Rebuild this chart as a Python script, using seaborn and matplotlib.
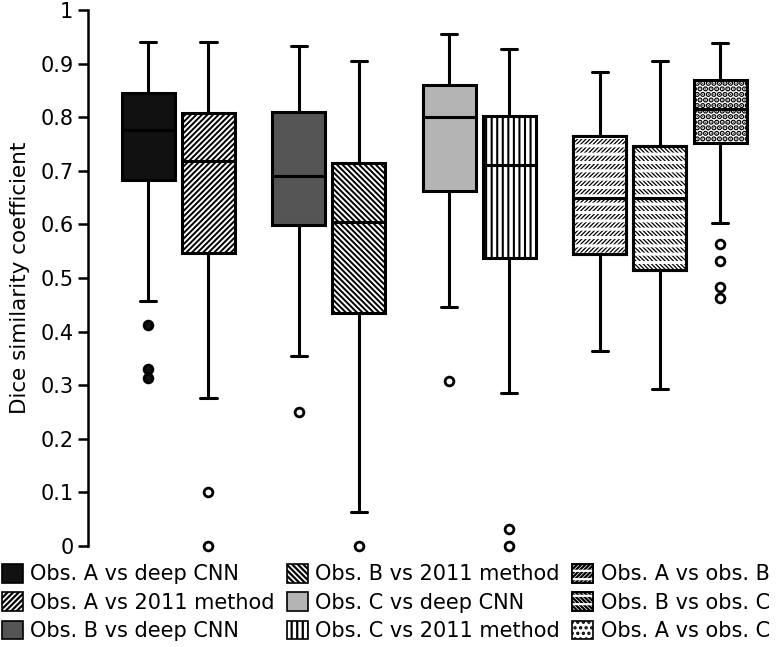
import numpy as np
import pandas as pd
import matplotlib
matplotlib.use("Agg")
import matplotlib.pyplot as plt
import seaborn as sns
from matplotlib.patches import Patch, PathPatch
from matplotlib.legend_handler import HandlerTuple

# ---------------- data ----------------
labels = ["Obs. A vs deep CNN", "Obs. A vs 2011 method", "Obs. B vs deep CNN",
          "Obs. B vs 2011 method", "Obs. C vs deep CNN", "Obs. C vs 2011 method",
          "Obs. A vs obs. B", "Obs. B vs obs. C", "Obs. A vs obs. C"]
whisker_low = [0.458, 0.277, 0.355, 0.063, 0.446, 0.286, 0.364, 0.292, 0.603]
quartile_1 = [0.683, 0.546, 0.599, 0.434, 0.663, 0.538, 0.545, 0.515, 0.752]
median = [0.777, 0.719, 0.691, 0.605, 0.800, 0.711, 0.649, 0.650, 0.816]
quartile_3 = [0.845, 0.808, 0.810, 0.714, 0.861, 0.803, 0.765, 0.747, 0.870]
whisker_high = [0.940, 0.940, 0.932, 0.904, 0.955, 0.928, 0.885, 0.904, 0.938]
outliers = [[0.413, 0.330, 0.314], [0.101, 0.0], [0.250], [0.0], [0.307],
            [0.032, 0.0], [], [], [0.563, 0.532, 0.483, 0.462]]
y_ticks = [0, 0.1, 0.2, 0.3, 0.4, 0.5, 0.6, 0.7, 0.8, 0.9, 1]
y_tick_labels = ["0", "0.1", "0.2", "0.3", "0.4", "0.5", "0.6", "0.7", "0.8", "0.9", "1"]
y_label = "Dice similarity coefficient"

# ---------------- layout / style ----------------
slots = [0, 1, 2.5, 3.5, 5, 6, 7.5, 8.5, 9.5]
fills = ["#111111", "white", "#555555", "white", "#b4b4b4", "white", "white", "white", "white"]
hatches = [None, "//////", None, "\\\\\\\\\\\\", None, "|||", "band/", "band\\", "..."]
hatch_lw = [None, 1.4, None, 1.4, None, 1.5, None, None, 2.8]

# long-form sample reproducing each box's five-number summary and outliers
rows = []
for i, lab in enumerate(labels):
    vals = (outliers[i] + [whisker_low[i]] + [quartile_1[i]] * 20 + [median[i]] * 20
            + [quartile_3[i]] * 20 + [whisker_high[i]])
    for v in vals:
        rows.append({"slot": slots[i], "label": lab, "value": v})
df = pd.DataFrame(rows)

sns.set_theme(style="white")
plt.rcParams["font.family"] = ["DejaVu Sans"]
plt.rcParams["hatch.linewidth"] = 1.6
for k in ["text.color", "axes.labelcolor", "xtick.color", "ytick.color"]:
    plt.rcParams[k] = "black"

W, H = 780, 647
fig = plt.figure(figsize=(W / 100, H / 100), dpi=100)
ax = fig.add_axes([88 / W, 101 / H, (770 - 88) / W, 536 / H])

sns.boxplot(data=df, x="slot", y="value", hue="label", hue_order=labels,
            palette=dict(zip(labels, fills)), saturation=1, native_scale=True,
            dodge=False, width=0.88, linecolor="black", linewidth=2.2, whis=1.5,
            flierprops=dict(marker="o", markerfacecolor="white", markeredgecolor="black",
                            markeredgewidth=2.0, markersize=6.3),
            capwidths=0.27, legend=False, ax=ax)


def set_hlw(p, lw):
    if lw is not None and hasattr(p, "set_hatch_linewidth"):
        p.set_hatch_linewidth(lw)


BAND_FWD = "////////"
BAND_BWD = "\\\\\\\\\\\\\\\\"
BAND_LW = 0.9
STRIPE_LW = 2.2

boxes = sorted([p for p in ax.patches if isinstance(p, PathPatch)],
               key=lambda p: p.get_path().vertices[:, 0].mean())
for p, h, fc, hl in zip(boxes, hatches, fills, hatch_lw):
    p.set_facecolor(fc)
    p.set_edgecolor("black")
    if h is None:
        continue
    if h.startswith("band"):
        p.set_hatch(BAND_FWD if h.endswith("/") else BAND_BWD)
        set_hlw(p, BAND_LW)
        ov = PathPatch(p.get_path(), transform=p.get_transform(), facecolor="none",
                       edgecolor="white", lw=0, hatch="--", zorder=p.get_zorder() + 0.01)
        set_hlw(ov, STRIPE_LW)
        ax.add_patch(ov)
        ol = PathPatch(p.get_path(), transform=p.get_transform(), facecolor="none",
                       edgecolor="black", lw=2.2, zorder=p.get_zorder() + 0.02)
        ax.add_patch(ol)
    else:
        p.set_hatch(h)
        set_hlw(p, hl)

for ln in ax.lines:
    if ln.get_marker() == "o":
        ln.set_clip_on(False)
        xd = np.asarray(ln.get_xdata())
        if len(xd) and abs(xd[0] - slots[0]) < 0.01:
            ln.set_markerfacecolor("#111111")

ax.set_xlim(-1.0, 10.33)
ax.set_ylim(0, 1)
ax.set_yticks(y_ticks)
ax.set_yticklabels(y_tick_labels, fontsize=15)
ax.set_ylabel(y_label, fontsize=15.5, color="black")
ax.yaxis.set_label_coords(-0.085, 0.5)
ax.set_xlabel("")
ax.set_xticks([])
sns.despine(ax=ax, top=True, right=True, bottom=True)
ax.spines["left"].set_linewidth(1.8)
ax.spines["left"].set_color("black")
ax.tick_params(axis="y", direction="out", length=7, width=1.8, color="black", pad=3.5,
               left=True, labelcolor="black")

# legend
handles = []
for h, fc, hl in zip(hatches, fills, hatch_lw):
    if h is not None and h.startswith("band"):
        base = Patch(facecolor="white", edgecolor="black", lw=1.2,
                     hatch=BAND_FWD if h.endswith("/") else BAND_BWD)
        set_hlw(base, BAND_LW)
        ov = Patch(facecolor="none", edgecolor="white", lw=0, hatch="--")
        set_hlw(ov, STRIPE_LW)
        ol = Patch(facecolor="none", edgecolor="black", lw=1.2)
        handles.append((base, ov, ol))
    else:
        hp = Patch(facecolor=fc, edgecolor="black", lw=1.2, hatch=h)
        set_hlw(hp, hl)
        handles.append(hp)

leg = fig.legend(handles, labels, ncol=3, loc="upper left",
                 bbox_to_anchor=(2 / W, 1 - 564 / H), frameon=False, fontsize=15,
                 handlelength=1.0, handleheight=1.0, handletextpad=0.35, columnspacing=0.6,
                 labelspacing=0.38, borderpad=0, borderaxespad=0,
                 handler_map={tuple: HandlerTuple(ndivide=1, pad=0)})
for t in leg.get_texts():
    t.set_color("black")

fig.savefig("out.png", dpi=100)
